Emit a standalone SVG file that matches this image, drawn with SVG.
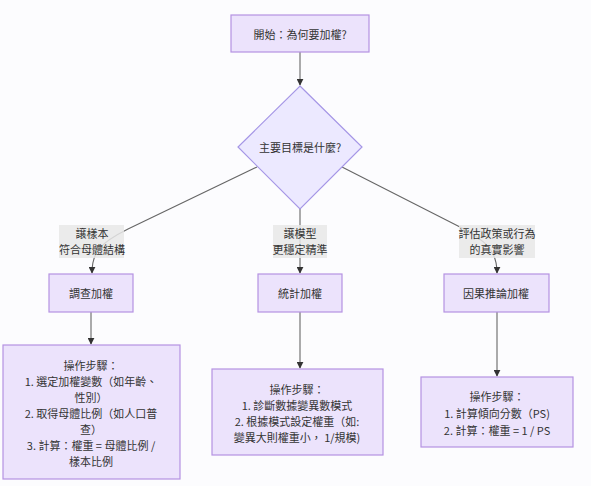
<svg xmlns="http://www.w3.org/2000/svg" width="591" height="486" viewBox="0 0 591 486">
<defs>
<style>
text{font-family:"Noto Sans CJK TC","Noto Sans CJK SC",sans-serif;font-size:11px;fill:#333;text-anchor:middle;dominant-baseline:central}
.box{fill:#ECE3FC;stroke:#B592E2;stroke-width:1.2}
.dia{fill:#ECE9FF;stroke:#A596E6;stroke-width:1.2}
.edge{fill:none;stroke:#666;stroke-width:1.1}
.lbl{fill:#E8E8E8;opacity:0.85}
</style>
<marker id="ah" viewBox="0 0 10 10" refX="9" refY="5" markerWidth="7" markerHeight="7" orient="auto-start-reverse" markerUnits="userSpaceOnUse">
<path d="M0,0 L10,5 L0,10 z" fill="#333"/>
</marker>
</defs>
<rect width="591" height="486" fill="#FCFCFE"/>
<g id="connectors">
<path class="edge" d="M300,52 L300,85" marker-end="url(#ah)"/>
<path class="edge" d="M257,167 L128,229 C100,243 92,252 92,273" marker-end="url(#ah)"/>
<path class="edge" d="M300,209 L300,273" marker-end="url(#ah)"/>
<path class="edge" d="M342,167 L458,226 C488,241 497,252 497,273" marker-end="url(#ah)"/>
<path class="edge" d="M91,312 L91,344" marker-end="url(#ah)"/>
<path class="edge" d="M300,312 L300,368" marker-end="url(#ah)"/>
<path class="edge" d="M497,312 L497,376" marker-end="url(#ah)"/>
<g id="edge-labels">
<rect class="lbl" x="59" y="225" width="65" height="33"/>
<text x="92" y="233">譲樣本</text>
<text x="92" y="249">符合母體結構</text>
<rect class="lbl" x="273" y="225" width="54" height="33"/>
<text x="300" y="233">譲模型</text>
<text x="300" y="249">更穩定精準</text>
<rect class="lbl" x="459" y="225" width="76" height="33"/>
<text x="497" y="233">評估政策或行為</text>
<text x="497" y="249">的真實影響</text>
</g>
</g>
<g id="start">
<rect class="box" x="231" y="15" width="138" height="37"/>
<text x="300" y="34">開始：為何要加權?</text>
</g>
<g id="goal">
<polygon class="dia" points="300,86 362,147 300,209 238,147"/>
<text x="300" y="147">主要目標是什麼?</text>
</g>
<g id="survey">
<rect class="box" x="49" y="274" width="84" height="38"/>
<text x="91" y="293">調查加權</text>
</g>
<g id="stat">
<rect class="box" x="258" y="274" width="84" height="38"/>
<text x="300" y="293">統計加權</text>
</g>
<g id="causal">
<rect class="box" x="444" y="274" width="105" height="38"/>
<text x="496" y="293">因果推論加權</text>
</g>
<g id="survey-steps">
<rect class="box" x="3" y="345" width="177" height="134"/>
<text x="91" y="365">操作步驟：</text>
<text x="91" y="381">1. 選定加權變數（如年齡、</text>
<text x="91" y="397">性別）</text>
<text x="91" y="413">2. 取得母體比例（如人口普</text>
<text x="91" y="429">查）</text>
<text x="91" y="445">3. 計算：權重 = 母體比例 /</text>
<text x="91" y="461">樣本比例</text>
</g>
<g id="stat-steps">
<rect class="box" x="212" y="369" width="171" height="86"/>
<text x="297" y="389">操作步驟：</text>
<text x="297" y="405">1. 診斷數據變異數模式</text>
<text x="297" y="421">2. 根據模式設定權重（如:</text>
<text x="297" y="437">變異大則權重小，  1/規模)</text>
</g>
<g id="causal-steps">
<rect class="box" x="421" y="377" width="152" height="70"/>
<text x="497" y="396">操作步驟：</text>
<text x="497" y="413">1. 計算傾向分數（PS)</text>
<text x="497" y="430">2. 計算：權重 = 1 / PS</text>
</g>
</svg>
